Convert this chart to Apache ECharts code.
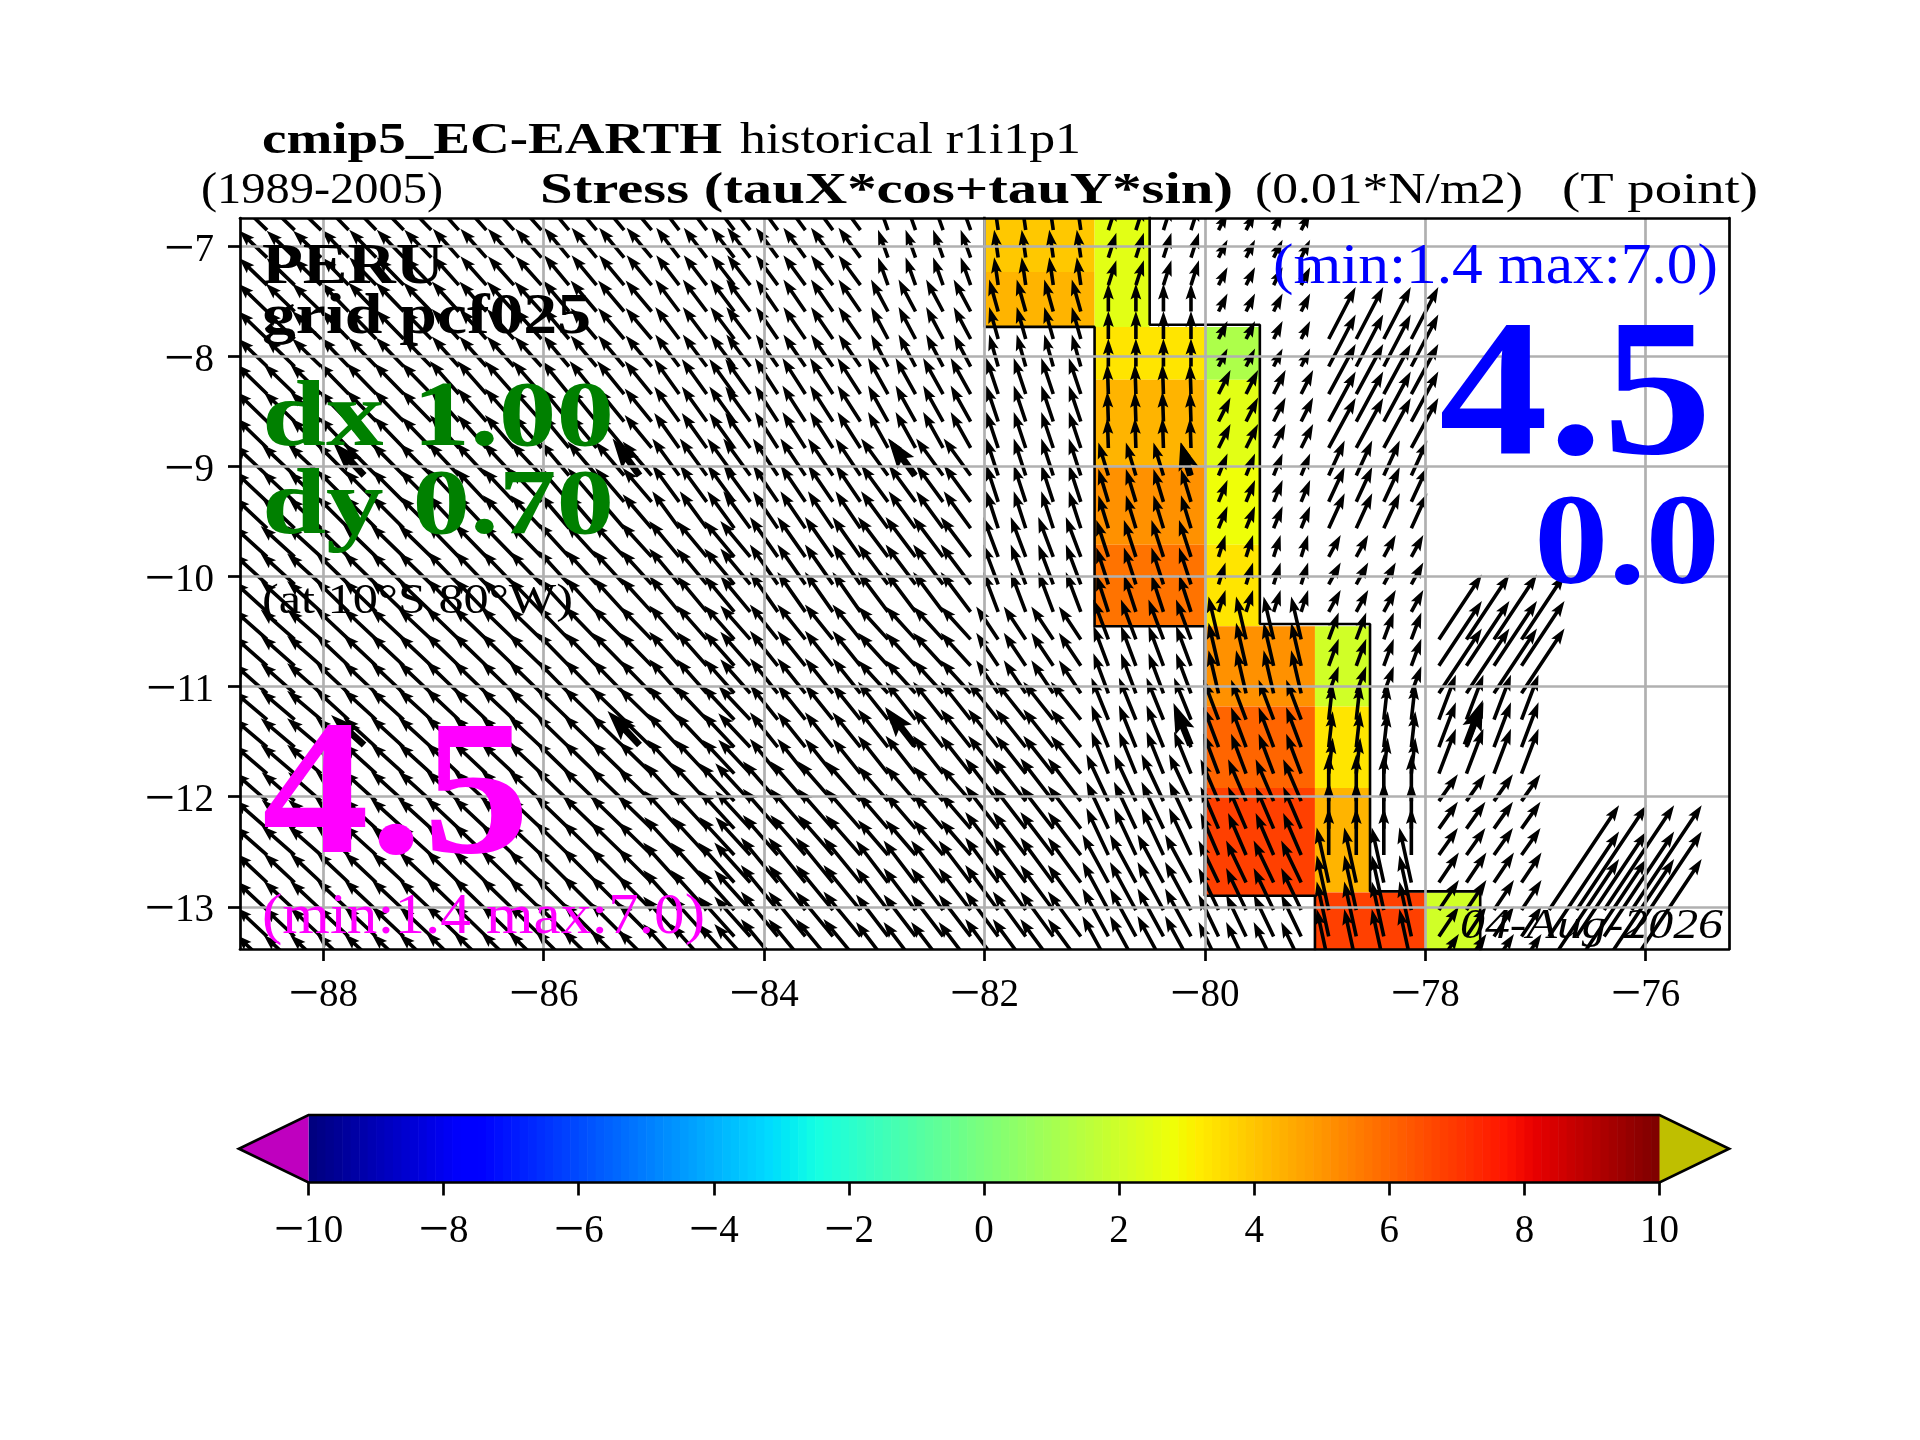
<!DOCTYPE html>
<html><head><meta charset="utf-8">
<style>html,body{margin:0;padding:0;background:#fff}#c{width:1920px;height:1440px}</style>
<script src="https://cdn.jsdelivr.net/npm/echarts@6/dist/echarts.min.js"></script>
</head><body><div id="c"></div>
<script>
// ---------- axis ticks
const xTicks = [-88,-86,-84,-82,-80,-78,-76];
const yTicks = [-13,-12,-11,-10,-9,-8,-7];
// ---------- shaded cells
const cellW = [-82,-82,-81,-81,-81,-81,-81,-80,-80,-80,-80,-80,-80,-80,-79,-79,-79,-79,-78];
const cellE = [-81,-81,-80.5,-80,-80,-80,-80,-79.5,-79.5,-79.5,-79.5,-79,-79,-79,-78.5,-78.5,-78.5,-78,-77.5];
const cellN = [-6.5,-7.23,-6.5,-7.73,-8.21,-8.99,-9.71,-7.73,-8.21,-8.99,-9.71,-10.45,-11.18,-11.92,-10.45,-11.18,-11.92,-12.87,-12.87];
const cellS = [-7.23,-7.73,-7.73,-8.21,-8.99,-9.71,-10.45,-8.21,-8.99,-9.71,-10.45,-11.18,-11.92,-12.9,-11.18,-11.92,-12.87,-13.6,-13.6];
const cellValue = [3.96,4.38,2.5,3.34,4.38,5.14,5.77,1.2,2.5,2.8,3.34,5.14,6.06,6.85,2.06,3.34,4.38,6.85,2.06];
// ---------- outline of the shaded area
const outlineA = [[-82,-6.5],[-82,-7.73],[-81,-7.73],[-81,-10.45],[-80,-10.45],[-80,-12.9],[-79,-12.9],[-79,-13.6]];
const outlineB = [[-80.5,-6.5],[-80.5,-7.71],[-79.5,-7.71],[-79.5,-10.43],[-78.5,-10.43],[-78.5,-12.86],[-77.5,-12.86],[-77.5,-13.6]];
// ---------- arrow tails
const tailLat = [-6.85,-7.10,-7.35,-7.59,-7.84,-8.09,-8.34,-8.59,-8.83,-9.08,-9.32,-9.56,-9.82,-10.07,-10.32,-10.57,-10.81,-11.06,-11.30,-11.55,-11.79,-12.04,-12.29,-12.53,-12.78,-13.03,-13.27,-13.52];
const tailLon = [-88.76,-88.51,-88.26,-88.02,-87.77,-87.52,-87.27,-87.02,-86.77,-86.52,-86.27,-86.02,-85.77,-85.52,-85.27,-85.02,-84.77,-84.52,-84.27,
 -84.125,-83.875,-83.625,-83.375,-83.125,-82.875,-82.625,-82.375,-82.125,-81.875,-81.625,-81.375,-81.125,-80.875,-80.625,-80.375,-80.125,-79.875,-79.625,-79.375,-79.125,-78.875,-78.625,-78.375,-78.125,-77.875,-77.625,-77.375,-77.125,-76.875,-76.625,-76.375,-76.125];
const blockLon = [-89,-88,-87,-86,-85,-84,-83,-82,-81,-80,-79,-78,-77,-76];
const blockFirstRow = [0,0,0,0,0,0,0,0,0,0,4,15,25,99];
// one u and one v row per latitude band (three tail rows each), one value per longitude block
const u0 = [-2.8,-2.7,-2.6,-2.5,-2.3,-2.2,-1.0,-0.4,0.8,0.9,null,null,null,null];
const v0 = [2.7,2.8,2.9,3.0,3.0,3.0,2.8,2.8,2.5,1.8,null,null,null,null];
const u1 = [-2.9,-2.8,-2.7,-2.6,-2.4,-2.2,-1.7,-0.9,0.0,0.9,2.7,null,null,null];
const v1 = [2.8,2.9,3.0,3.1,3.2,3.2,3.2,3.2,2.8,1.8,5.2,null,null,null];
const u2 = [-3.1,-3.0,-2.9,-2.7,-2.5,-2.3,-2.0,-1.2,-0.1,1.2,2.7,null,null,null];
const v2 = [3.0,3.1,3.3,3.3,3.5,3.6,3.6,3.6,3.0,2.4,5.0,null,null,null];
const u3 = [-3.3,-3.2,-3.1,-2.9,-2.7,-2.5,-2.7,-1.2,-1.0,0.9,1.6,null,null,null];
const v3 = [3.1,3.2,3.3,3.4,3.7,3.7,3.7,3.7,3.3,2.2,3.5,null,null,null];
const u4 = [-3.4,-3.3,-3.2,-3.1,-3.0,-2.8,-3.0,-1.5,-1.2,0.7,1.2,null,null,null];
const v4 = [3.1,3.2,3.3,3.4,3.6,4.0,4.0,4.0,3.7,2.2,2.2,null,null,null];
const u5 = [-3.4,-3.3,-3.3,-3.2,-3.0,-2.8,-3.0,-2.2,-1.5,-1.0,1.0,4.3,null,null];
const v5 = [3.0,3.1,3.2,3.3,3.4,3.5,3.3,3.3,4.0,4.3,2.7,6.5,null,null];
const u6 = [-3.4,-3.3,-3.3,-3.3,-3.2,-2.8,-3.0,-3.0,-1.7,-1.5,0.4,1.7,null,null];
const v6 = [2.9,3.0,3.1,3.2,3.4,3.5,3.8,3.8,4.2,4.0,3.6,4.5,null,null];
const u7 = [-3.3,-3.3,-3.3,-3.4,-3.5,-3.5,-3.0,-3.3,-2.2,-1.8,0.0,1.9,null,null];
const v7 = [2.9,3.0,3.1,3.3,3.8,4.0,3.5,4.3,4.7,4.2,4.7,2.7,null,null];
const u8 = [-3.1,-3.2,-3.3,-3.4,-3.6,-3.7,-3.2,-3.3,-2.6,-2.0,-1.2,2.0,7.0,null];
const v8 = [2.9,3.0,3.2,3.4,4.0,4.5,4.2,4.5,4.8,4.2,5.5,3.0,10.5,null];
const uBands = [u0,u1,u2,u3,u4,u5,u6,u7,u8];
const vBands = [v0,v1,v2,v3,v4,v5,v6,v7,v8];
// ---------- thick arrows
const boldLon = [-87.63,-85.13,-82.63,-80.13,-87.63,-85.13,-82.63,-80.13,-77.63];
const boldLat = [-9.08,-9.08,-9.08,-9.08,-11.53,-11.53,-11.53,-11.53,-11.53];
const boldU = [-3.1,-2.7,-2.7,-1.0,-3.3,-3.2,-3.0,-1.7,1.7];
const boldV = [3.3,3.7,3.7,3.3,3.0,3.4,3.8,4.2,4.5];
// ---------- colour bar
const cbarMin = -10, cbarMax = 10, cbarStep = 0.125;
const cbarUnder = '#bf00bf', cbarOver = '#bfbf00';

const PX_PER_DEG = 110.18, PX_PER_UNIT = 10;
const K = PX_PER_UNIT / PX_PER_DEG;

const JET = {
 r:[[0,0],[0.35,0],[0.66,1],[0.89,1],[1,0.5]],
 g:[[0,0],[0.125,0],[0.375,1],[0.64,1],[0.91,0],[1,0]],
 b:[[0,0.5],[0.11,1],[0.34,1],[0.65,0],[1,0]]
};
function seg(s,t){for(let i=1;i<s.length;i++){if(t<=s[i][0]){const a=s[i-1],b=s[i];return a[1]+(b[1]-a[1])*(t-a[0])/(b[0]-a[0]);}}return s[s.length-1][1];}
function jet(t){const c=k=>Math.round(255*seg(JET[k],t));return `rgb(${c('r')},${c('g')},${c('b')})`;}
function levelColor(v){return jet((v-cbarMin)/(cbarMax-cbarMin));}

const arrows = [];
tailLat.forEach((lat,r)=>{
  const band = Math.min(8,Math.floor(r/3));
  tailLon.forEach(lon=>{
    const b = blockLon.indexOf(Math.floor(lon));
    if (r < blockFirstRow[b]) return;
    const u = uBands[band][b], v = vBands[band][b];
    if (u===null) return;
    arrows.push([lon,lat,u,v,1]);
  });
});
boldLon.forEach((lon,i)=>arrows.push([lon,boldLat[i],boldU[i],boldV[i],1.9]));
const cbarCells=[];
for(let e=cbarMin;e<cbarMax-1e-9;e+=cbarStep)cbarCells.push([e,e+cbarStep,(e-cbarMin)/(cbarMax-cbarMin-cbarStep)]);

function renderArrow(params,api){
  const lon=api.value(0),lat=api.value(1),u=api.value(2),v=api.value(3),w=api.value(4);
  const a=api.coord([lon,lat]), b=api.coord([lon+u*K,lat+v*K]);
  const dx=b[0]-a[0],dy=b[1]-a[1],L=Math.hypot(dx,dy)||1;
  const ux=dx/L,uy=dy/L,nx=-uy,ny=ux;
  const sw=1.8*w,hw=5.4*w;let hl=16*w,ha=14*w;
  if(hl>L*0.8){const s=L*0.8/hl;hl*=s;ha*=s;}
  const P=(t,n)=>[a[0]+ux*t+nx*n,a[1]+uy*t+ny*n];
  return {type:'polygon',shape:{points:[P(0,sw),P(L-ha,sw),P(L-hl,hw),P(L,0),P(L-hl,-hw),P(L-ha,-sw),P(0,-sw)]},style:{fill:'#000'},silent:true};
}
function renderCell(params,api){
  const a=api.coord([api.value(0),api.value(2)]),b=api.coord([api.value(1),api.value(3)]);
  return {type:'rect',shape:{x:a[0],y:a[1],width:b[0]-a[0],height:b[1]-a[1]},style:{fill:levelColor(api.value(4))},silent:true};
}
function renderBar(params,api){
  const a=api.coord([api.value(0),1]),b=api.coord([api.value(1),0]);
  return {type:'rect',shape:{x:a[0],y:a[1],width:b[0]-a[0]+0.6,height:b[1]-a[1]},style:{fill:jet(api.value(2))},silent:true};
}
const SERIF='"Liberation Serif"';
const ctx=document.createElement('canvas').getContext('2d');
// [text, left, right, baseline, size, weight, style, colour]
const texts=[
 ['cmip5_EC-EARTH',262,722,153,44,'bold','normal','#000'],
 ['historical r1i1p1',740,1081,153,44,'normal','normal','#000'],
 ['(1989-2005)',201,443,203,44,'normal','normal','#000'],
 ['Stress (tauX*cos+tauY*sin)',540,1233,203,44,'bold','normal','#000'],
 ['(0.01*N/m2)',1255,1523,203,44,'normal','normal','#000'],
 ['(T point)',1562,1758,203,44,'normal','normal','#000'],
 ['PERU',262,444,283,56,'bold','normal','#000'],
 ['grid pcf025',262,591,333,56,'bold','normal','#000'],
 ['dx 1.00',262,614,445,94,'bold','normal','#008000'],
 ['dy 0.70',262,614,533,94,'bold','normal','#008000'],
 ['(at 10°S 80°W)',262,573,613,42,'normal','normal','#000'],
 ['4.5',262,530,852,192,'bold','normal','#ff00ff'],
 ['(min:1.4 max:7.0)',262,705,933,56,'normal','normal','#ff00ff'],
 ['(min:1.4 max:7.0)',1273,1718,283,56,'normal','normal','#0000ff'],
 ['4.5',1439,1712,453,196,'bold','normal','#0000ff'],
 ['0.0',1534,1720,583,130,'bold','normal','#0000ff'],
 ['04-Aug-2026',1460,1723,938,42,'normal','italic','#000']
];
const graphics=texts.map(t=>{
  const font=`${t[6]} ${t[5]} ${t[4]}px ${SERIF}`;
  ctx.font=font;
  const w=ctx.measureText(t[0]).width;
  return {type:'text',x:t[1],y:t[3]-0.26*t[4],scaleX:(t[2]-t[1])/w,z:100,silent:true,
    style:{text:t[0],font,fill:t[7],textAlign:'left',textVerticalAlign:'middle'}};
});
const fmt=v=>{const s=String(Math.abs(v));return v<0?`{m|\u2212}{d|${s}}`:`{d|${s}}`;};
const xMin=-88.756,xMax=-75.242,yMin=-13.384,yMax=-6.74;
const richLbl={m:{fontFamily:SERIF,fontSize:54,lineHeight:40,color:'#000'},d:{fontFamily:SERIF,fontSize:39,lineHeight:40,color:'#000'}};
const chart=echarts.init(document.getElementById('c'),null,{renderer:'canvas',width:1920,height:1440});
chart.setOption({
 animation:false,backgroundColor:'#fff',
 grid:[{left:240,top:218,width:1489,height:731},{left:308.5,top:1115,width:1351,height:67.5}],
 xAxis:[
  {gridIndex:0,type:'value',min:xMin,max:xMax,position:'bottom',z:6,
   axisLine:{show:true,onZero:false,lineStyle:{color:'#000',width:2.7}},
   axisTick:{show:true,length:12,customValues:xTicks,lineStyle:{color:'#000',width:2.7}},
   axisLabel:{show:true,customValues:xTicks,margin:27,formatter:fmt,rich:richLbl},
   splitLine:{show:true,lineStyle:{color:'#b0b0b0',width:2.7}}},
  {gridIndex:0,type:'value',min:xMin,max:xMax,position:'top',z:6,
   axisLine:{show:true,onZero:false,lineStyle:{color:'#000',width:2.7}},axisTick:{show:false},axisLabel:{show:false},splitLine:{show:false}},
  {gridIndex:1,type:'value',min:-10,max:10,interval:2,position:'bottom',z:6,
   axisLine:{show:false},
   axisTick:{show:true,length:13,lineStyle:{color:'#000',width:2.7}},
   axisLabel:{show:true,margin:29,formatter:fmt,rich:richLbl},splitLine:{show:false}}
 ],
 yAxis:[
  {gridIndex:0,type:'value',min:yMin,max:yMax,position:'left',z:6,
   axisLine:{show:true,onZero:false,lineStyle:{color:'#000',width:2.7}},
   axisTick:{show:true,length:12,customValues:yTicks,lineStyle:{color:'#000',width:2.7}},
   axisLabel:{show:true,customValues:yTicks,margin:26,padding:[8,0,0,0],formatter:fmt,rich:richLbl},
   splitLine:{show:true,lineStyle:{color:'#b0b0b0',width:2.7}}},
  {gridIndex:0,type:'value',min:yMin,max:yMax,position:'right',z:6,
   axisLine:{show:true,onZero:false,lineStyle:{color:'#000',width:2.7}},axisTick:{show:false},axisLabel:{show:false},splitLine:{show:false}},
  {gridIndex:1,type:'value',min:0,max:1,show:false}
 ],
 series:[
  {type:'custom',xAxisIndex:0,yAxisIndex:0,clip:true,z:2,silent:true,renderItem:renderCell,
   data:cellW.map((w,i)=>[w,cellE[i],cellN[i],cellS[i],cellValue[i]]),encode:{x:0,y:2}},
  {type:'line',xAxisIndex:0,yAxisIndex:0,clip:true,z:3,silent:true,showSymbol:false,data:outlineA,lineStyle:{color:'#000',width:2.6}},
  {type:'line',xAxisIndex:0,yAxisIndex:0,clip:true,z:3,silent:true,showSymbol:false,data:outlineB,lineStyle:{color:'#000',width:2.6}},
  {type:'custom',xAxisIndex:0,yAxisIndex:0,clip:true,z:4,silent:true,progressive:0,renderItem:renderArrow,
   data:arrows,encode:{x:0,y:1}},
  {type:'custom',xAxisIndex:2,yAxisIndex:2,clip:false,z:2,silent:true,progressive:0,renderItem:renderBar,
   data:cbarCells,encode:{x:0}},
  {type:'custom',xAxisIndex:2,yAxisIndex:2,clip:false,z:3,silent:true,
   data:[[0]],encode:{x:0},
   renderItem(p,api){
     const c=(x,y)=>api.coord([x,y]);
     return {type:'group',children:[
       {type:'polygon',shape:{points:[c(-10,1),c(-11.03,0.5),c(-10,0)]},style:{fill:cbarUnder}},
       {type:'polygon',shape:{points:[c(10,1),c(11.03,0.5),c(10,0)]},style:{fill:cbarOver}},
       {type:'polygon',shape:{points:[c(-10,1),c(10,1),c(11.03,0.5),c(10,0),c(-10,0),c(-11.03,0.5)]},style:{fill:'none',stroke:'#000',lineWidth:2.7}}
     ]};
   }}
 ],
 graphic:graphics
});
</script></body></html>
